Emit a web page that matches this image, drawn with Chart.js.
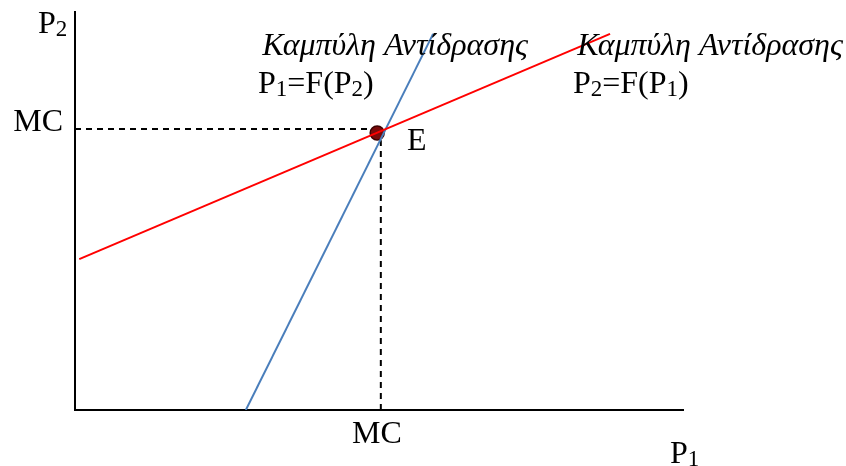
<!DOCTYPE html>
<html>
<head>
<meta charset="utf-8">
<script src="https://cdn.jsdelivr.net/npm/chart.js@4.4.1/dist/chart.umd.min.js"></script>
<style>
  html, body { margin: 0; padding: 0; background: #fff; }
  #wrap { width: 846px; height: 466px; }
</style>
</head>
<body>
<div id="wrap"><canvas id="myChart" width="846" height="466"></canvas></div>
<script>
// reaction curves, in P1 (x) / P2 (y) units
const redX = [0.07, 8.8];      // P2 = F(P1)
const redY = [3.79, 9.45];
const blueX = [2.81, 5.89];    // P1 = F(P2)
const blueY = [0, 9.45];
const mcX = 5.03;
const mcY = 7.06;
const eqX = [4.97];            // point E
const eqY = [6.96];

const curveLabel = 'Καμπύλη Αντίδρασης';
const serif = '"Liberation Serif", "Times New Roman", serif';
const fontSize = 32;

function pts(xs, ys) {
    return xs.map(function (x, i) { return { x: x, y: ys[i] }; });
}

// text with subscripts: parts = [[text, isSub], ...]
function drawParts(ctx, parts, x, y, size) {
    parts.forEach(function (p) {
        ctx.font = (p[1] ? Math.round(size * 0.72) : size) + 'px ' + serif;
        ctx.fillText(p[0], x, p[1] ? y + 3 : y);
        x += ctx.measureText(p[0]).width;
    });
}

const labelsPlugin = {
    id: 'labels',
    afterDatasetsDraw(chart) {
        const ctx = chart.ctx;
        const xs = chart.scales.x, ys = chart.scales.y;
        const area = chart.chartArea;
        ctx.save();
        ctx.fillStyle = '#000';
        ctx.textBaseline = 'alphabetic';
        ctx.textAlign = 'left';

        ctx.font = 'italic ' + fontSize + 'px ' + serif;
        ctx.fillText(curveLabel, xs.getPixelForValue(3.08), ys.getPixelForValue(8.91));
        ctx.fillText(curveLabel, xs.getPixelForValue(8.26), ys.getPixelForValue(8.91));

        drawParts(ctx, [['P', 0], ['1', 1], ['=F(P', 0], ['2', 1], [')', 0]],
            xs.getPixelForValue(3.01), ys.getPixelForValue(7.96), fontSize);
        drawParts(ctx, [['P', 0], ['2', 1], ['=F(P', 0], ['1', 1], [')', 0]],
            xs.getPixelForValue(8.19), ys.getPixelForValue(7.96), fontSize);

        ctx.font = fontSize + 'px ' + serif;
        ctx.fillText('E', xs.getPixelForValue(5.46), ys.getPixelForValue(6.53));

        // MC on both axes
        ctx.textAlign = 'right';
        ctx.fillText('MC', area.left - 12, ys.getPixelForValue(mcY) + 2);
        ctx.textAlign = 'center';
        ctx.fillText('MC', xs.getPixelForValue(mcX) - 4, area.bottom + 33);

        // axis names
        ctx.textAlign = 'left';
        drawParts(ctx, [['P', 0], ['2', 1]], area.left - 37, area.top + 21, fontSize);
        drawParts(ctx, [['P', 0], ['1', 1]], area.right - 13, area.bottom + 53, fontSize);
        ctx.restore();
    }
};

const ctx = document.getElementById('myChart');

new Chart(ctx, {
    type: 'scatter',
    data: {
        datasets: [{
            label: 'P2=F(P1)',
            data: pts(redX, redY),
            showLine: true,
            borderColor: '#ff0000',
            borderWidth: 2,
            pointRadius: 0
        }, {
            label: 'P1=F(P2)',
            data: pts(blueX, blueY),
            showLine: true,
            borderColor: '#4a7ebb',
            borderWidth: 2,
            pointRadius: 0
        }, {
            label: 'MC horiz',
            data: pts([0, 4.85], [mcY, mcY]),
            showLine: true,
            borderColor: '#000',
            borderWidth: 2,
            borderDash: [6, 5],
            pointRadius: 0
        }, {
            label: 'MC vert',
            data: pts([mcX, mcX], [0, 6.78]),
            showLine: true,
            borderColor: '#000',
            borderWidth: 2,
            borderDash: [6, 5],
            pointRadius: 0
        }, {
            label: 'E',
            data: pts(eqX, eqY),
            pointRadius: 7,
            pointBackgroundColor: '#7a0a0a',
            pointBorderColor: '#3d0000',
            pointBorderWidth: 1.5
        }]
    },
    options: {
        responsive: false,
        animation: false,
        layout: { padding: { left: 67, right: 163, top: 12, bottom: 48 } },
        plugins: {
            legend: { display: false },
            tooltip: { enabled: false }
        },
        scales: {
            x: {
                type: 'linear', min: 0, max: 10,
                grid: { display: false },
                ticks: { display: false },
                border: { display: true, color: '#000', width: 2 }
            },
            y: {
                type: 'linear', min: 0, max: 10,
                grid: { display: false },
                ticks: { display: false },
                border: { display: true, color: '#000', width: 2 }
            }
        }
    },
    plugins: [labelsPlugin]
});
</script>
</body>
</html>
